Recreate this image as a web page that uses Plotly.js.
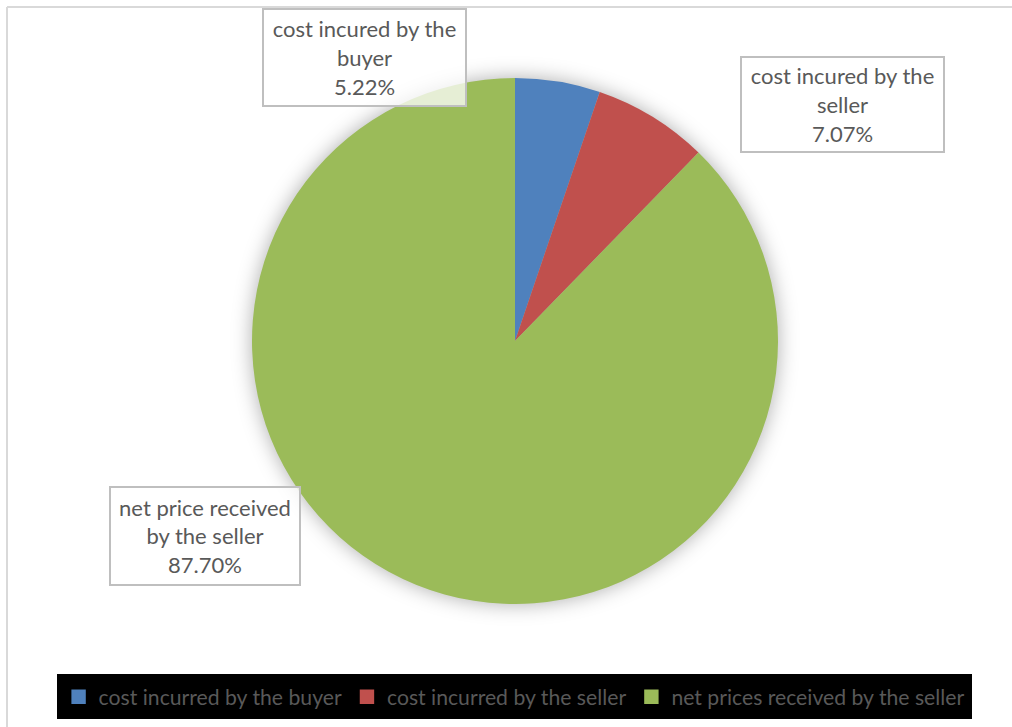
<!DOCTYPE html>
<html>
<head>
<meta charset="utf-8">
<script src="https://cdn.plot.ly/plotly-3.0.1.min.js"></script>
<style>
  html, body { margin: 0; padding: 0; background: #fff; }
  #chart { width: 1012px; height: 727px; }
  .pielayer { filter: drop-shadow(0px 0px 10px rgba(0,0,0,0.32)); }
</style>
</head>
<body>
<div id="chart"></div>
<script>
// ---- data ----
const legendLabels = ["cost incurred by the buyer", "cost incurred by the seller", "net prices received by the seller"];
const dataLabels = ["cost incured by the<br>buyer", "cost incured by the<br>seller", "net price received<br>by the seller"];
const values = [5.22, 7.07, 87.70];
const colors = ["#4f81bd", "#c0504d", "#9bbb59"];

// ---- label boxes (pixel centres / sizes) ----
const W = 1012, H = 727;
const boxes = [
  {cx: 364.5, cy: 57.5, w: 197, h: 91},
  {cx: 842.5, cy: 104.5, w: 197, h: 89},
  {cx: 205, cy: 536, w: 184, h: 92}
];

const font = "Lato, 'Liberation Sans', sans-serif";

const trace = {
  type: "pie",
  labels: legendLabels,
  values: values,
  sort: false,
  direction: "clockwise",
  rotation: 0,
  textinfo: "none",
  hoverinfo: "label+percent",
  marker: {colors: colors, line: {width: 0}},
  domain: {
    x: [(515 - 263) / W, (515 + 263) / W],
    y: [(H - 341 - 263) / H, (H - 341 + 263) / H]
  }
};

const annotations = dataLabels.map((t, i) => ({
  xref: "paper", yref: "paper",
  x: boxes[i].cx / W, y: 1 - boxes[i].cy / H,
  xanchor: "center", yanchor: "middle",
  text: t + "<br>" + values[i].toFixed(2) + "%",
  showarrow: false,
  align: "center",
  width: boxes[i].w, height: boxes[i].h,
  bgcolor: "rgba(255,255,255,0.75)",
  bordercolor: "#bfbfbf", borderwidth: 2, borderpad: 2,
  font: {family: font, size: 22, color: "#595959"}
}));

const layout = {
  width: W, height: H,
  margin: {l: 0, r: 0, t: 0, b: 0},
  paper_bgcolor: "#ffffff",
  showlegend: true,
  legend: {
    orientation: "h",
    x: 0.508, xanchor: "center",
    y: 1 - 697 / H, yanchor: "middle",
    bgcolor: "rgba(0,0,0,0)",
    font: {family: font, size: 21.2, color: "#595959"},
    itemwidth: 30,
    traceorder: "normal"
  },
  shapes: [
    {type: "rect", xref: "paper", yref: "paper", layer: "below",
     x0: 57 / W, x1: 972 / W, y0: 1 - 719 / H, y1: 1 - 674 / H,
     fillcolor: "#000000", line: {width: 0}},
    {type: "line", xref: "paper", yref: "paper",
     x0: 7 / W, x1: 1, y0: 1 - 7 / H, y1: 1 - 7 / H,
     line: {color: "#d9d9d9", width: 2}},
    {type: "line", xref: "paper", yref: "paper",
     x0: 7 / W, x1: 7 / W, y0: 0, y1: 1 - 7 / H,
     line: {color: "#d9d9d9", width: 2}}
  ],
  annotations: annotations
};

Plotly.newPlot("chart", [trace], layout, {displayModeBar: false, staticPlot: true}).then(() => {
  // enlarge legend swatches to match the 12px squares of the reference
  document.querySelectorAll(".legendpoints path").forEach(p => {
    p.setAttribute("transform", (p.getAttribute("transform") || "") + " scale(1.2)");
  });
});
</script>
</body>
</html>
